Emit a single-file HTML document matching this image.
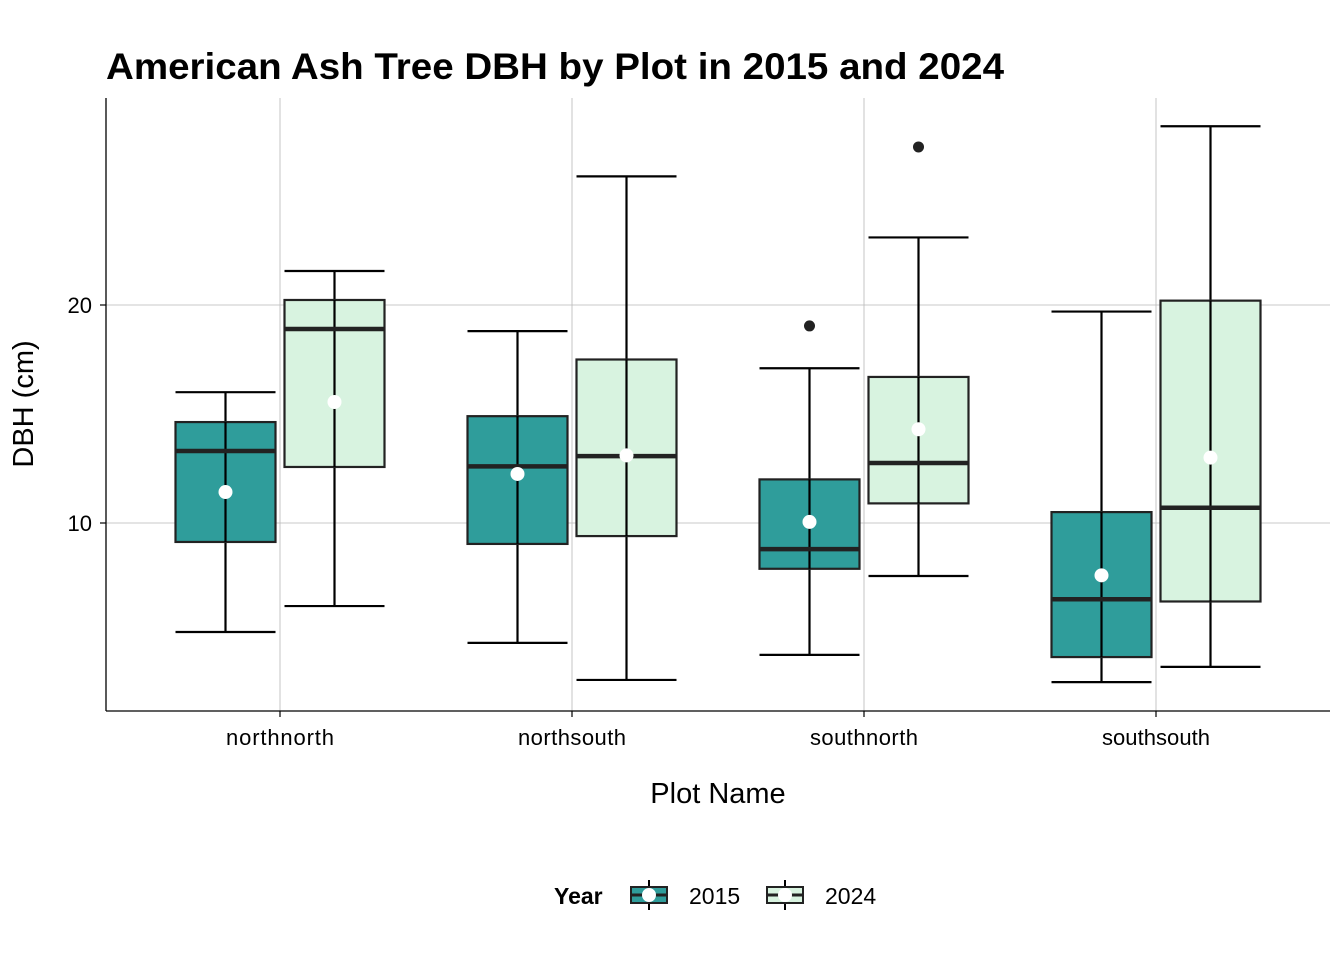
<!DOCTYPE html>
<html><head><meta charset="utf-8"><style>
body{margin:0;background:#fff;font-family:"Liberation Sans",Arial,sans-serif}
</style></head><body>
<svg id="chart" width="1344" height="960" xmlns="http://www.w3.org/2000/svg" font-family="Liberation Sans, Arial, sans-serif">
<text x="106" y="79" font-size="37" font-weight="bold" fill="#000" textLength="898" lengthAdjust="spacingAndGlyphs">American Ash Tree DBH by Plot in 2015 and 2024</text>
<g id="grid"></g>
<g id="marks"></g>
<line x1="106" y1="98" x2="106" y2="711" stroke="#000" stroke-width="1.3"/>
<line x1="106" y1="711" x2="1330" y2="711" stroke="#000" stroke-width="1.3"/>
<g id="axes"></g>
<text x="718" y="803" font-size="29" text-anchor="middle">Plot Name</text>
<text transform="translate(33,404) rotate(-90)" font-size="29" text-anchor="middle">DBH (cm)</text>
<g>
<text x="554" y="904" font-size="23" font-weight="bold">Year</text>
<g>
<line x1="649" y1="880" x2="649" y2="910" stroke="#000" stroke-width="2"/>
<rect x="631" y="887" width="36" height="16" fill="#2f9d9b" stroke="#222" stroke-width="2"/>
<line x1="631" y1="895" x2="667" y2="895" stroke="#222" stroke-width="3"/>
<circle cx="649" cy="895" r="7" fill="#fff"/>
<text x="689" y="904" font-size="23">2015</text></g>
<g>
<line x1="785" y1="880" x2="785" y2="910" stroke="#000" stroke-width="2"/>
<rect x="767" y="887" width="36" height="16" fill="#d8f3e0" stroke="#222" stroke-width="2"/>
<line x1="767" y1="895" x2="803" y2="895" stroke="#222" stroke-width="3"/>
<circle cx="785" cy="895" r="7" fill="#fff"/>
<text x="825" y="904" font-size="23">2024</text></g>
</g>
</svg>
<script>
const categories=["northnorth","northsouth","southnorth","southsouth"];
const years=["2015","2024"];
const yTicks=[10,20];
const lowWhisker2015=[5.0,4.5,3.95,2.7];
const q1_2015=[9.13,9.04,7.9,3.85];
const median2015=[13.3,12.6,8.8,6.5];
const q3_2015=[14.63,14.9,12.0,10.5];
const highWhisker2015=[16.0,18.8,17.1,19.7];
const mean2015=[11.42,12.25,10.05,7.6];
const lowWhisker2024=[6.19,2.8,7.57,3.4];
const q1_2024=[12.57,9.4,10.9,6.4];
const median2024=[18.9,13.07,12.75,10.7];
const q3_2024=[20.23,17.5,16.7,20.2];
const highWhisker2024=[21.56,25.9,23.1,28.2];
const mean2024=[15.55,13.1,14.3,13.0];
const outliers2015=[[],[],[19.04],[]];
const outliers2024=[[],[],[27.25],[]];

var SVGNS="http://www.w3.org/2000/svg";
function yScale(v){return 741-v*21.8;}
function xScale(i){return 280+i*292;}
function mk(parent,tag,names,vals){var e=document.createElementNS(SVGNS,tag);for(var k=0;k<names.length;k++){e.setAttribute(names[k],String(vals[k]));}parent.appendChild(e);return e;}
function ln(parent,x1,y1,x2,y2,col,w){return mk(parent,'line',['x1','y1','x2','y2','stroke','stroke-width'],[x1,y1,x2,y2,col,w]);}
var grid=document.getElementById('grid'),marks=document.getElementById('marks'),axes=document.getElementById('axes');
for(var t=0;t<yTicks.length;t++){
 var yy=yScale(yTicks[t]);
 var gl=ln(grid,106,yy,1330,yy,'#b8b8b8',0.8);
 
 
 var tk=ln(axes,100,yy,106,yy,'#000',1.2);
 
 
 var tx=mk(axes,'text',['x','y','font-size','text-anchor'],[92,yy+8,22,'end']);
 tx.textContent=yTicks[t];
 
 
}
for(var c=0;c<categories.length;c++){
 var xx=xScale(c);
 var gx=ln(grid,xx,98,xx,711,'#b8b8b8',0.8);
 
 
 var tk2=ln(axes,xx,711,xx,717,'#000',1.2);
 
 
 var tx2=mk(axes,'text',['x','y','font-size','text-anchor','textLength'],[xx,745,22,'middle',categories[c].length*10.8]);
 tx2.textContent=categories[c];
 
 
}
var series=[
 {lo:lowWhisker2015,q1:q1_2015,md:median2015,q3:q3_2015,hi:highWhisker2015,mn:mean2015,out:outliers2015,fill:'#2f9d9b',off:-54.5},
 {lo:lowWhisker2024,q1:q1_2024,md:median2024,q3:q3_2024,hi:highWhisker2024,mn:mean2024,out:outliers2024,fill:'#d8f3e0',off:54.5}];
for(var si=0;si<series.length;si++){
 var s=series[si];
 for(var i=0;i<categories.length;i++){
  var cx=xScale(i)+s.off, hw=50;
  var yq3=yScale(s.q3[i]), yq1=yScale(s.q1[i]), ymd=yScale(s.md[i]), yhi=yScale(s.hi[i]), ylo=yScale(s.lo[i]);
  var g=document.createElementNS(SVGNS,'g');
  marks.appendChild(g);
  
  
  ln(g,cx,yhi,cx,ylo,'#000',2.2);
  ln(g,cx-hw,yhi,cx+hw,yhi,'#000',2.2);
  ln(g,cx-hw,ylo,cx+hw,ylo,'#000',2.2);
  mk(g,'rect',['x','y','width','height','fill','stroke','stroke-width'],[cx-hw,yq3,2*hw,yq1-yq3,s.fill,'#222',2.2]);
  ln(g,cx,yq3,cx,yq1,'#000',2.2);
  ln(g,cx-hw,ymd,cx+hw,ymd,'#222',4.5);
  for(var k=0;k<s.out[i].length;k++){
   var o=mk(g,'circle',['cx','cy','r','fill'],[cx,yScale(s.out[i][k]),5.5,'#222']);
   
   
  }
  var m=mk(g,'circle',['cx','cy','r','fill'],[cx,yScale(s.mn[i]),7,'#fff']);
  
  
 }
}
</script>
</body></html>
